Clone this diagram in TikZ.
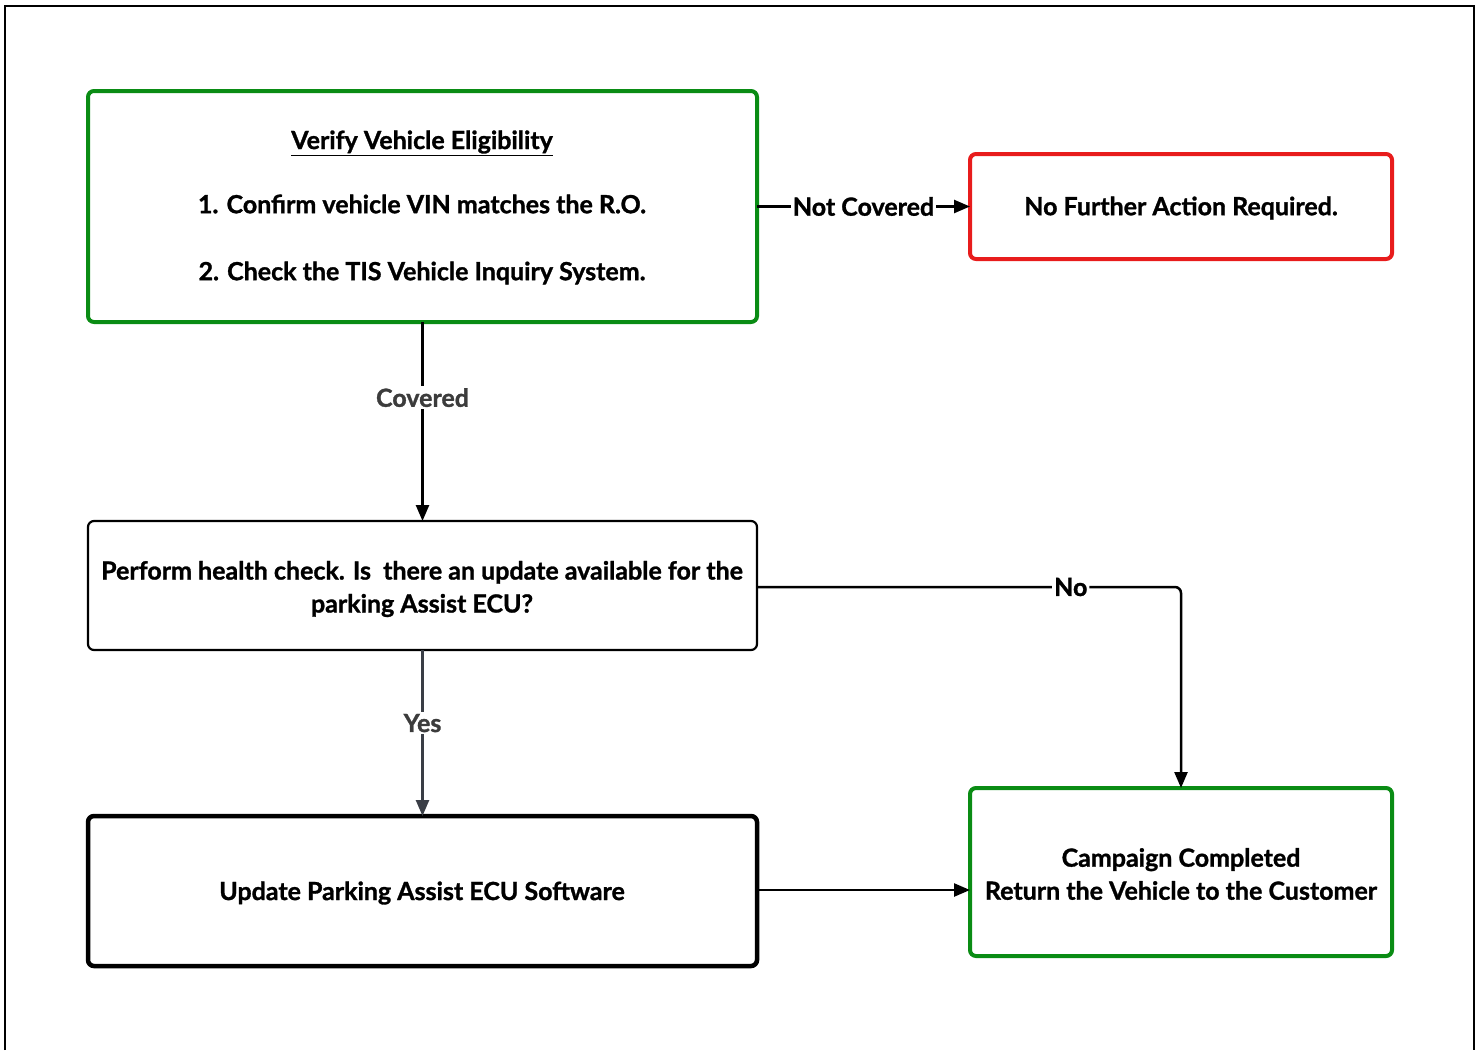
\documentclass[tikz,border=0pt]{standalone}
\usepackage{fontspec}
\setmainfont{Lato}[BoldFeatures={FakeBold=1.2}]
\usetikzlibrary{arrows.meta}
\definecolor{boxgreen}{RGB}{10,140,20}
\definecolor{boxred}{RGB}{232,28,28}
\definecolor{darkgrey}{RGB}{58,62,70}
\definecolor{labgrey}{RGB}{60,60,60}
\begin{document}
\begin{tikzpicture}[x=1pt,y=-1pt,
  every node/.style={font=\fontsize{25}{33}\selectfont\bfseries},
  box/.style={draw, rounded corners=6pt, inner sep=0pt, outer sep=0pt, anchor=north west},
  conn/.style={line width=2.5pt, -{Triangle[length=16pt,width=13pt]}},
  lab/.style={fill=white, inner sep=2pt}]
\useasboundingbox (0,0) rectangle (1478,1050);
\draw[line width=2.5pt] (5,1050) -- (5,6) -- (1474,6) -- (1474,1050);
% boxes
\node[box, draw=boxgreen, line width=4pt, minimum width=669pt, minimum height=231pt] (b1) at (88,91) {};
\node[box, draw=boxred, line width=4pt, minimum width=422pt, minimum height=105pt] (b2) at (970,154) {};
\node[box, line width=2.2pt, minimum width=669pt, minimum height=129pt] (b3) at (88,521) {};
\node[box, line width=4.5pt, minimum width=669pt, minimum height=150pt] (b4) at (88,816) {};
\node[box, draw=boxgreen, line width=4pt, minimum width=422pt, minimum height=168pt] (b5) at (970,788) {};
% texts
\node (t1a) at (422,143) {\underline{Verify Vehicle Eligibility}};
\node (t1b) at (422,204) {1. Confirm vehicle VIN matches the R.O.};
\node (t1c) at (422,273) {2. Check the TIS Vehicle Inquiry System.};
\node (t2) at (1181,208) {No Further Action Required.};
\node[align=center] (t3) at (422,589) {Perform health check. Is\ \ there an update available for the\\parking Assist ECU?};
\node (t4) at (422,893) {Update Parking Assist ECU Software};
\node[align=center] (t5) at (1181,874) {Campaign Completed\\Return the Vehicle to the Customer};
% connectors
\draw[conn] (b1.east |- b2.west) -- node[lab, text=black] {Not Covered} (b2.west);
\draw[conn] (b1.south) -- node[lab, text=labgrey, pos=0.38] {Covered} (b3.north);
\draw[conn, draw=darkgrey, fill=darkgrey] (b3.south) -- node[lab, text=labgrey, pos=0.44] {Yes} (b4.north);
\coordinate (c1) at (1181,587);
\draw[conn, rounded corners=6pt] (b3.east |- c1) -- node[lab, pos=0.74] {No} (c1) -- (b5.north);
\draw[conn] (b4.east |- 0,890) -- (b5.west |- 0,890);
\end{tikzpicture}
\end{document}
